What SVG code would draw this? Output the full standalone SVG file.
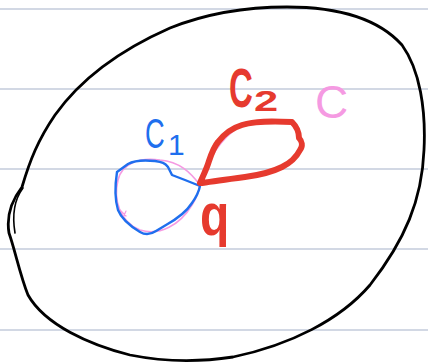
<svg xmlns="http://www.w3.org/2000/svg" width="428" height="364" viewBox="0 0 428 364">
<style>
.rule{stroke:#c3cbdb;stroke-width:1.5}
.ink{fill:none;stroke-linecap:round;stroke-linejoin:round}
.lbl{font-family:"Liberation Sans","DejaVu Sans",sans-serif}
</style>
<rect width="428" height="364" fill="#ffffff"/>
<g id="rules">
<line class="rule" x1="0" y1="9" x2="428" y2="9"/>
<line class="rule" x1="0" y1="89" x2="428" y2="89"/>
<line class="rule" x1="0" y1="169" x2="428" y2="169"/>
<line class="rule" x1="0" y1="249" x2="428" y2="249"/>
<line class="rule" x1="0" y1="330" x2="428" y2="330"/>
</g>
<g id="region-outline">
<path class="ink" stroke="#000" stroke-width="2.8" d="M287,7 C330,7 375,15 402,45 C420,70 426,110 424,150 C422,200 405,240 370,285 C340,320 290,345 233,357 C200,362 165,362 130,355 C90,345 45,325 28,295 C20,275 15,250 9,233 C6,215 12,200 22,187 C30,160 38,140 55,115 C80,80 120,50 170,28 C205,14 245,7 287,7 Z"/>
<path class="ink" stroke="#000" stroke-width="1.6" d="M15,233 C12,215 14,200 23,188"/>
</g>
<g id="curve-c">
<path class="ink" stroke="#f59ae2" stroke-width="1.6" d="M200,185 C190,172 180,162 160,160 C140,157 122,163 118,180 C113,200 120,222 140,230 C160,236 180,225 192,205 C197,197 199,190 200,185 C206,165 218,140 240,126 C260,118 285,118 297,128"/>
<path class="ink" stroke="#f59ae2" stroke-width="1.2" d="M120,210 L126,216 M123,218 L126,211"/>
</g>
<g id="curve-c1">
<path class="ink" stroke="#1f6fee" stroke-width="2.4" d="M200,186 L185,180 L172,175 L168,167 C165,163 162,162 155,161 C145,160 135,160 128,164 L117,172 C115,185 115,200 118,210 C122,220 130,226 140,232 C145,235 150,235 156,231 L166,225 C175,220 185,214 192,203 C197,196 199,191 200,186"/>
</g>
<g id="curve-c2">
<path class="ink" stroke="#e63a2e" stroke-width="6" d="M200,183 C203,176 206,170 208,164 C211,155 213,148 218,142 C224,134 232,128 242,125 C255,121 270,121 292,122 C296,126 299,132 299,138 C302,141 303,146 300,150 C296,158 290,163 282,167 C270,173 260,175 245,177 C230,179 215,181 202,183"/>
</g>
<g id="labels">
<text class="lbl" transform="translate(229,107) scale(0.6,1)" font-size="55" fill="#e63a2e" font-weight="bold">C</text>
<text class="lbl" transform="translate(254,111) scale(1.45,1)" font-size="30" fill="#e63a2e" font-weight="bold">2</text>
<text class="lbl" transform="translate(145,148) scale(0.65,1)" font-size="42" fill="#1f6fee">C</text>
<text class="lbl" x="168" y="155" font-size="30" fill="#1f6fee">1</text>
<text class="lbl" x="315" y="118" font-size="46" fill="#f59ae2">C</text>
<text class="lbl" transform="translate(200,235) scale(0.8,1)" font-size="60" fill="#e63a2e" font-weight="bold">q</text>
</g>
</svg>
